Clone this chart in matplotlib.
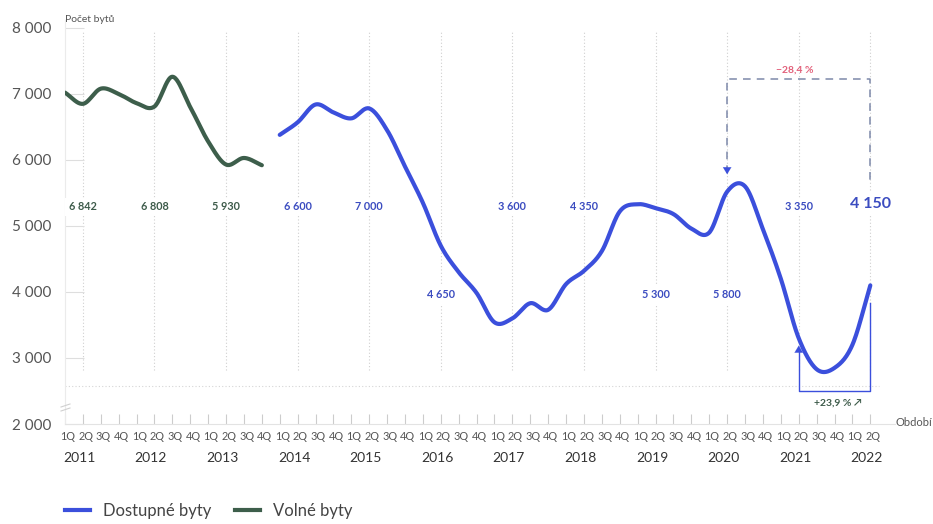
import numpy as np
import matplotlib
matplotlib.use("Agg")
import matplotlib.pyplot as plt
import matplotlib.transforms as mtrans
from matplotlib.lines import Line2D

plt.rcParams['font.family'] = ['Lato', 'DejaVu Sans']

# ---------------- data ----------------
quarters = ["1Q", "2Q", "3Q", "4Q"]
years = [str(y) for y in range(2011, 2023)]
quarter_labels = [q for y in years for q in quarters][:46]   # 1Q 2011 .. 2Q 2022

# Volné byty (green) 1Q 2011 .. 4Q 2013
volne_start = 0
volne = [7020, 6850, 7080, 7000, 6860, 6810, 7260, 6800, 6280, 5930, 6030, 5920]

# Dostupné byty (blue) 1Q 2014 .. 2Q 2022
dostupne_start = 12
dostupne = [6380, 6570, 6840, 6720, 6630, 6780, 6450, 5900,
            5350, 4700, 4300, 3985, 3540, 3600, 3830, 3730,
            4120, 4320, 4620, 5220, 5330, 5270, 5180, 4960,
            4900, 5520, 5600, 4950, 4200, 3300, 2830, 2850,
            3200, 4100]

# value labels at 2Q of each year
volne_label_idx = [1, 5, 9]
volne_label_txt = ["6 842", "6 808", "5 930"]
dost_label_idx = [13, 17, 21, 25, 29, 33, 37, 41, 45]
dost_label_txt = ["6 600", "7 000", "4 650", "3 600", "4 350", "5 300", "5 800", "3 350", "4 150"]
dost_label_row = [0, 0, 1, 0, 0, 1, 1, 0, 0]

pct_down = "−28,4 %"
pct_up = "+23,9 % ↗"

yticks = [2000, 3000, 4000, 5000, 6000, 7000, 8000]

# ---------------- colours ----------------
BLUE = "#3b4fdc"
GREEN = "#3d5e4b"
BLUE_TXT = "#3b4cc0"
GREEN_TXT = "#3d5b4a"
PINK = "#e2607a"
GREY = "#555555"


def catmull(xs, ys, n=24):
    xs = np.asarray(xs, float)
    ys = np.asarray(ys, float)
    px = np.concatenate([[2 * xs[0] - xs[1]], xs, [2 * xs[-1] - xs[-2]]])
    py = np.concatenate([[2 * ys[0] - ys[1]], ys, [2 * ys[-1] - ys[-2]]])
    ox, oy = [], []
    t = np.linspace(0, 1, n, endpoint=False)
    for j in range(1, len(px) - 2):
        for P, out in ((px, ox), (py, oy)):
            p0, p1, p2, p3 = P[j - 1], P[j], P[j + 1], P[j + 2]
            v = 0.5 * ((2 * p1) + (-p0 + p2) * t + (2 * p0 - 5 * p1 + 4 * p2 - p3) * t ** 2
                       + (-p0 + 3 * p1 - 3 * p2 + p3) * t ** 3)
            out.extend(v)
    ox.append(xs[-1]); oy.append(ys[-1])
    return np.array(ox), np.array(oy)


W, H = 933, 524
fig = plt.figure(figsize=(W / 100, H / 100), dpi=100)
L, R, T, B = 65, 895, 20, 424
ax = fig.add_axes([L / W, 1 - B / H, (R - L) / W, (B - T) / H])

# x mapping: index i -> pixel 64.8 + 17.9 i
x0 = (L - 64.8) / 17.9
x1 = (R - 64.8) / 17.9
ax.set_xlim(x0, x1)
ax.set_ylim(2000, 8120)

# dotted verticals at 2Q
for i in volne_label_idx + dost_label_idx:
    ax.plot([i, i], [2820, 7950], ls=(0, (1, 2)), color="#cfcfcf", lw=0.8, zorder=1)

# dotted horizontal (axis break)
ax.axhline(2576, xmin=0, xmax=(45.5 - x0) / (x1 - x0), ls=(0, (1, 2)), color="#d5d5d5", lw=0.8, zorder=1)

# lines
gx, gy = catmull(np.arange(volne_start, volne_start + len(volne)), volne)
ax.plot(gx, gy, color=GREEN, lw=3.0, solid_capstyle="round", zorder=3)
bx, by = catmull(np.arange(dostupne_start, dostupne_start + len(dostupne)), dostupne)
ax.plot(bx, by, color=BLUE, lw=3.0, solid_capstyle="round", zorder=3)

# value labels
row_y = [5290, 3955]
for i, txt in zip(volne_label_idx, volne_label_txt):
    ax.text(i, row_y[0], txt, ha="center", va="center", fontsize=7.8, fontweight="bold",
            color=GREEN_TXT, zorder=4,
            bbox=dict(boxstyle="square,pad=0.35", fc="white", ec="none"))
for k, (i, txt, r) in enumerate(zip(dost_label_idx, dost_label_txt, dost_label_row)):
    last = k == len(dost_label_idx) - 1
    ax.text(i, row_y[r] + (45 if last else 0), txt, ha="center", va="center",
            fontsize=11.5 if last else 7.8, fontweight="bold",
            color=BLUE_TXT, zorder=4,
            bbox=dict(boxstyle="square,pad=0.35", fc="white", ec="none"))

# top dashed bracket (-28,4 %)
i_a, i_b = 37, 45
top_v = 7227
dash_col = "#7d89aa"
ax.plot([i_a, i_a, i_b, i_b], [5800, top_v, top_v, 5650], color=dash_col, lw=1.1,
        ls=(0, (5, 4)), zorder=2)
ax.annotate("", xy=(i_a, 5740), xytext=(i_a, 5900),
            arrowprops=dict(arrowstyle="-|>,head_length=0.5,head_width=0.3", color=BLUE, lw=0.1),
            zorder=5)
ax.text((i_a + i_b) / 2 - 0.2, top_v + 140, pct_down, ha="center", va="center", fontsize=7.5,
        color=PINK, fontweight="bold")

# lower bracket (+23,9 %)
i_c = 41
bot_v = 2500
ax.plot([i_c, i_c, i_b, i_b], [3150, bot_v, bot_v, 3834], color=BLUE, lw=1.0, zorder=2)
ax.annotate("", xy=(i_c, 3230), xytext=(i_c, 3050),
            arrowprops=dict(arrowstyle="-|>,head_length=0.5,head_width=0.3", color=BLUE, lw=0.1),
            zorder=5)
ax.text((i_c + i_b) / 2 + 0.2, 2318, pct_up, ha="center", va="center", fontsize=7.5,
        color=GREEN_TXT, fontweight="bold", family=["Lato", "DejaVu Sans"])

# axes styling
for s in ["top", "right"]:
    ax.spines[s].set_visible(False)
ax.spines["left"].set_color("#ebebeb")
ax.spines["bottom"].set_color("#e3e3e3")
ax.spines["left"].set_linewidth(0.8)
ax.spines["bottom"].set_linewidth(0.8)

ax.set_yticks(yticks)
ax.set_yticklabels([f"{v:,}".replace(",", " ") for v in yticks], fontsize=11, color=GREY)
ax.tick_params(axis="y", direction="in", length=14, width=0.8, color="#dedede", pad=10)

ax.set_xticks(np.arange(46))
ax.set_xticklabels([])
ax.tick_params(axis="x", direction="in", length=7, width=0.8, color="#cccccc")
q_off = ax.transData + mtrans.ScaledTranslation(0, -7 / 100, fig.dpi_scale_trans)
for i, q in enumerate(quarter_labels):
    ax.text(i + 0.15, 2000, q, transform=q_off, ha="center", va="top", fontsize=7.8, color=GREY)
y_off = ax.transData + mtrans.ScaledTranslation(0, -28 / 100, fig.dpi_scale_trans)
for k, y in enumerate(years):
    ax.text(4 * k + 1 - 0.2, 2000, y, transform=y_off, ha="center", va="top", fontsize=10,
            color="#333333")

# axis break marks
for dy in (0, 4):
    fig.add_artist(Line2D([61 / W, 70 / W], [1 - (411 - dy) / H, 1 - (408 - dy) / H],
                          color="#d0d0d0", lw=0.8))

fig.text(65 / W, 1 - 19 / H, "Počet bytů", fontsize=7.5, color=GREY, va="center", ha="left")
fig.text(896 / W, 1 - 423 / H, "Období", fontsize=8, color=GREY, va="center", ha="left")

handles = [Line2D([], [], color=BLUE, lw=3), Line2D([], [], color=GREEN, lw=3)]
fig.legend(handles, ["Dostupné byty", "Volné byty"], loc="center left",
           bbox_to_anchor=(65 / W, 1 - 511 / H), ncol=2, frameon=False, fontsize=12,
           handlelength=1.5, columnspacing=1.4, handletextpad=0.8, labelcolor="#444444",
           borderpad=0, borderaxespad=0)

fig.savefig("out.png", dpi=100)
